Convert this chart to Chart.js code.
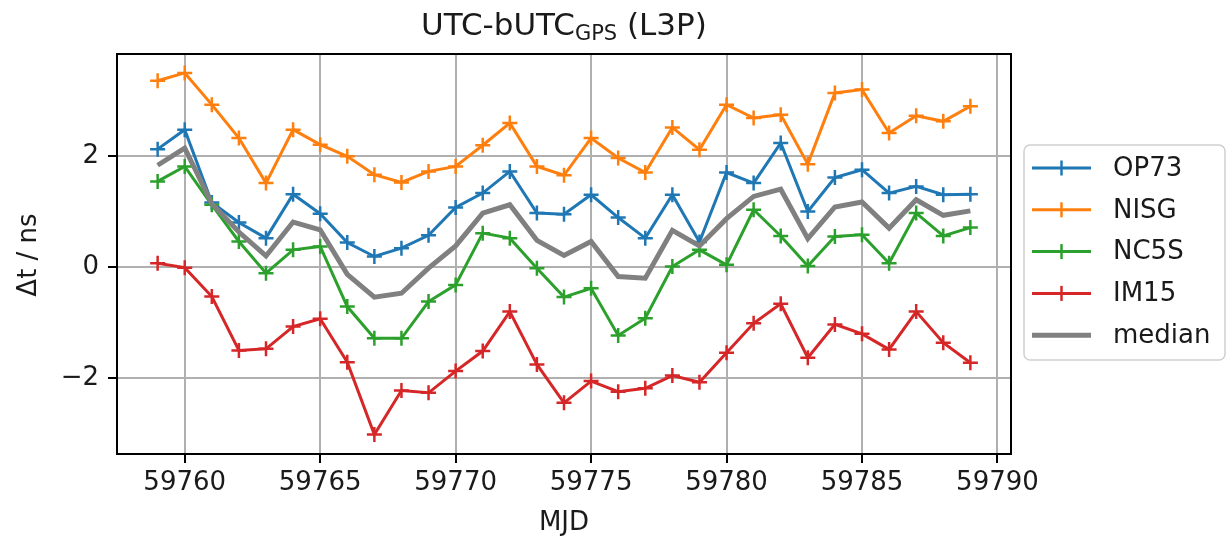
<!DOCTYPE html>
<html>
<head>
<meta charset="utf-8">
<script src="https://cdn.jsdelivr.net/npm/chart.js@4.4.1/dist/chart.umd.min.js"></script>
<style>
  html, body { margin: 0; padding: 0; background: #ffffff; }
  #wrap { width: 1226px; height: 542px; }
</style>
</head>
<body>
<div id="wrap"><canvas id="c" width="1226" height="542"></canvas></div>
<script>
// Modified Julian Dates of the daily solutions
const mjd = [59759, 59760, 59761, 59762, 59763, 59764, 59765, 59766, 59767, 59768,
             59769, 59770, 59771, 59772, 59773, 59774, 59775, 59776, 59777, 59778,
             59779, 59780, 59781, 59782, 59783, 59784, 59785, 59786, 59787, 59788, 59789];

// UTC - bUTC(GPS) per station, ns
const op73 = [2.12, 2.47, 1.16, 0.80, 0.52, 1.31, 0.96, 0.44, 0.19, 0.34,
              0.57, 1.07, 1.33, 1.72, 0.97, 0.95, 1.30, 0.89, 0.52, 1.30,
              0.45, 1.70, 1.51, 2.23, 1.00, 1.61, 1.75, 1.33, 1.45, 1.30, 1.31];
const nisg = [3.35, 3.49, 2.92, 2.32, 1.51, 2.47, 2.20, 1.99, 1.66, 1.52,
              1.72, 1.81, 2.19, 2.59, 1.81, 1.65, 2.32, 1.96, 1.70, 2.51,
              2.11, 2.92, 2.68, 2.74, 1.85, 3.13, 3.19, 2.41, 2.72, 2.62, 2.89];
const nc5s = [1.54, 1.81, 1.12, 0.46, -0.11, 0.31, 0.37, -0.71, -1.28, -1.28,
              -0.62, -0.32, 0.61, 0.52, -0.02, -0.54, -0.38, -1.23, -0.92, 0.01,
              0.31, 0.04, 1.03, 0.56, 0.02, 0.55, 0.58, 0.07, 0.97, 0.56, 0.71];
const im15 = [0.07, -0.01, -0.53, -1.50, -1.47, -1.07, -0.93, -1.71, -3.01, -2.22,
              -2.26, -1.87, -1.51, -0.80, -1.75, -2.44, -2.05, -2.24, -2.18, -1.95,
              -2.07, -1.54, -1.01, -0.66, -1.63, -1.03, -1.20, -1.48, -0.80, -1.36, -1.72];
const median = [1.83, 2.14, 1.14, 0.63, 0.20, 0.81, 0.67, -0.13, -0.54, -0.47,
                -0.02, 0.38, 0.97, 1.12, 0.48, 0.21, 0.46, -0.17, -0.20, 0.66,
                0.38, 0.87, 1.27, 1.40, 0.51, 1.08, 1.17, 0.70, 1.21, 0.93, 1.01];

// Axis ticks
const xTicks = [59760, 59765, 59770, 59775, 59780, 59785, 59790];
const yTicks = [-2, 0, 2];

const FONT = 'DejaVu Sans';
const TXT = '#1a1a1a';

const series = [
  { label: 'OP73',   values: op73,   color: '#1f77b4', marker: true },
  { label: 'NISG',   values: nisg,   color: '#ff7f0e', marker: true },
  { label: 'NC5S',   values: nc5s,   color: '#2ca02c', marker: true },
  { label: 'IM15',   values: im15,   color: '#d62728', marker: true },
  { label: 'median', values: median, color: '#808080', marker: false }
];

const datasets = series.map((s, i) => ({
  label: s.label,
  data: mjd.map((m, k) => ({ x: m, y: s.values[k] })),
  borderColor: s.color,
  backgroundColor: s.color,
  borderWidth: s.marker ? 3 : 5,
  pointStyle: 'cross',
  pointRadius: s.marker ? 7.5 : 0,
  pointHoverRadius: s.marker ? 7.5 : 0,
  pointBorderWidth: 2.5,
  pointBorderColor: s.color,
  pointBackgroundColor: s.color,
  tension: 0,
  fill: false,
  order: series.length - i
}));

// Frame, title with subscript, axis titles and the boxed legend
const decor = {
  id: 'decor',
  afterDatasetsDraw(chart) {
    const { ctx, chartArea: a } = chart;
    ctx.save();
    ctx.strokeStyle = '#000';
    ctx.lineWidth = 2;
    ctx.strokeRect(a.left, a.top, a.right - a.left, a.bottom - a.top);
    ctx.restore();
  },
  afterDraw(chart) {
    const { ctx, chartArea: a } = chart;
    const cx = (a.left + a.right) / 2;
    ctx.save();
    ctx.fillStyle = TXT;
    ctx.textBaseline = 'alphabetic';

    // Title: UTC-bUTC_GPS (L3P)
    const big = `31px "${FONT}"`, small = `21px "${FONT}"`;
    const t1 = 'UTC-bUTC', t2 = 'GPS', t3 = ' (L3P)';
    ctx.font = big;  const w1 = ctx.measureText(t1).width, w3 = ctx.measureText(t3).width;
    ctx.font = small; const w2 = ctx.measureText(t2).width;
    let x = cx - (w1 + w2 + w3) / 2;
    ctx.textAlign = 'left';
    ctx.font = big;  ctx.fillText(t1, x, 35); x += w1;
    ctx.font = small; ctx.fillText(t2, x, 40); x += w2;
    ctx.font = big;  ctx.fillText(t3, x, 35);

    // X axis title
    ctx.font = `26px "${FONT}"`;
    ctx.textAlign = 'center';
    ctx.fillText('MJD', cx, 530);

    // Y axis title
    ctx.save();
    ctx.translate(36, (a.top + a.bottom) / 2 + 1);
    ctx.rotate(-Math.PI / 2);
    ctx.fillText('\u0394t / ns', 0, 0);
    ctx.restore();

    // Legend
    const lx = 1024, ly = 145, lw = 201, lh = 215, r = 6;
    ctx.beginPath();
    ctx.moveTo(lx + r, ly);
    ctx.arcTo(lx + lw, ly, lx + lw, ly + lh, r);
    ctx.arcTo(lx + lw, ly + lh, lx, ly + lh, r);
    ctx.arcTo(lx, ly + lh, lx, ly, r);
    ctx.arcTo(lx, ly, lx + lw, ly, r);
    ctx.closePath();
    ctx.fillStyle = 'rgba(255,255,255,0.85)';
    ctx.fill();
    ctx.strokeStyle = '#d0d0d0';
    ctx.lineWidth = 1.5;
    ctx.stroke();

    ctx.textAlign = 'left';
    ctx.textBaseline = 'middle';
    ctx.font = `26px "${FONT}"`;
    series.forEach((s, i) => {
      const y = 168 + i * 41.8;
      ctx.strokeStyle = s.color;
      ctx.lineWidth = s.marker ? 3 : 5;
      ctx.beginPath();
      ctx.moveTo(1032, y); ctx.lineTo(1091, y);
      ctx.stroke();
      if (s.marker) {
        ctx.lineWidth = 2.5;
        ctx.beginPath();
        ctx.moveTo(1061.5, y - 7.5); ctx.lineTo(1061.5, y + 7.5);
        ctx.stroke();
      }
      ctx.fillStyle = TXT;
      ctx.fillText(s.label, 1113, y + 1);
    });
    ctx.restore();
  }
};

new Chart(document.getElementById('c'), {
  type: 'line',
  data: { datasets },
  plugins: [decor],
  options: {
    responsive: false,
    animation: false,
    devicePixelRatio: 1,
    layout: { padding: { left: 0, right: 215, top: 54, bottom: 0 } },
    plugins: {
      legend: { display: false },
      title: { display: false },
      tooltip: { enabled: false }
    },
    scales: {
      x: {
        type: 'linear',
        min: 59757.5,
        max: 59790.5,
        afterBuildTicks: (s) => { s.ticks = xTicks.map(v => ({ value: v })); },
        afterFit: (s) => { s.height = 88; },
        border: { display: false },
        grid: { color: '#b0b0b0', lineWidth: 2, drawTicks: true, tickColor: '#000', tickWidth: 2, tickLength: 9 },
        ticks: {
          color: TXT, font: { family: FONT, size: 26 }, padding: 5,
          maxRotation: 0, autoSkip: false,
          callback: (v) => String(v)
        }
      },
      y: {
        type: 'linear',
        min: -3.36,
        max: 3.83,
        afterBuildTicks: (s) => { s.ticks = yTicks.map(v => ({ value: v })); },
        afterFit: (s) => { s.width = 117; },
        border: { display: false },
        grid: { color: '#b0b0b0', lineWidth: 2, drawTicks: true, tickColor: '#000', tickWidth: 2, tickLength: 9 },
        ticks: {
          color: TXT, font: { family: FONT, size: 26 }, padding: 9,
          autoSkip: false,
          callback: (v) => (v < 0 ? '\u2212' + Math.abs(v) : String(v))
        }
      }
    }
  }
});
</script>
</body>
</html>
